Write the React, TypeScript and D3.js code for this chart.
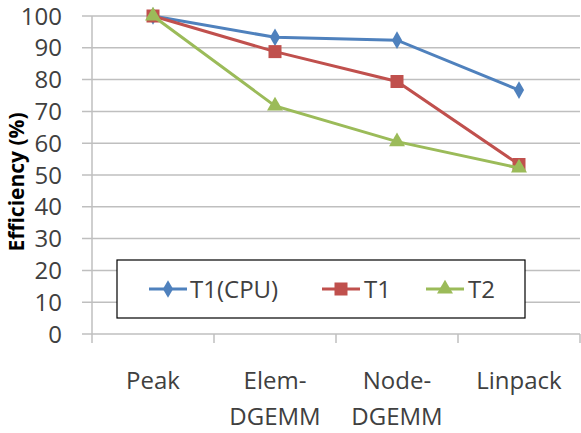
import React from 'react';
import * as d3 from 'd3';

const categories = ['Peak', 'Elem-\nDGEMM', 'Node-\nDGEMM', 'Linpack'];
const seriesNames = ['T1(CPU)', 'T1', 'T2'];
const t1cpu = [100, 93.3, 92.4, 76.7];
const t1 = [100, 88.8, 79.4, 53.3];
const t2 = [100, 71.7, 60.5, 52.2];
const yTicks = [0, 10, 20, 30, 40, 50, 60, 70, 80, 90, 100];

const colors = ['#4f81bd', '#c0504d', '#9bbb59'];
const W = 581;
const H = 433;
const left = 92;
const right = 580;
const top = 16;
const bottom = 334;
const font = '"Open Sans", "Liberation Sans", sans-serif';

function Marker({ kind, x, y, color }: { kind: number; x: number; y: number; color: string }) {
  if (kind === 0) {
    const s = d3.symbol(d3.symbolDiamond, 90)();
    return <path d={s || ''} transform={`translate(${x},${y})`} fill={color} />;
  }
  if (kind === 1) {
    return <rect x={x - 6.5} y={y - 6.5} width={13} height={13} fill={color} />;
  }
  const s = d3.symbol(d3.symbolTriangle, 110)();
  return <path d={s || ''} transform={`translate(${x},${y})`} fill={color} />;
}

export default function App() {
  const data = [t1cpu, t1, t2];
  const x = d3.scaleBand<string>().domain(categories).range([left, right]);
  const y = d3.scaleLinear().domain([0, 100]).range([bottom, top]);
  const cx = (c: string) => (x(c) ?? 0) + x.bandwidth() / 2;
  const line = d3
    .line<number>()
    .x((_, i) => cx(categories[i]))
    .y((d) => y(d));
  const edges = categories.map((c) => x(c) ?? 0).concat([right]);

  const legendItems = [
    { lx: 149, tx: 190 },
    { lx: 322, tx: 364 },
    { lx: 426, tx: 468 },
  ];

  return (
    <svg width={W} height={H} style={{ position: 'absolute', left: 0, top: 0 }}>
      <rect width={W} height={H} fill="#fff" />
      {yTicks.map((t) => (
        <line key={t} x1={left - 10} x2={right} y1={y(t)} y2={y(t)} stroke="#bfbfbf" strokeWidth={1.5} />
      ))}
      <line x1={left} x2={left} y1={top} y2={bottom} stroke="#bfbfbf" strokeWidth={1.5} />
      {edges.map((e, i) => (
        <line key={i} x1={e} x2={e} y1={bottom} y2={bottom + 9} stroke="#bfbfbf" strokeWidth={1.5} />
      ))}
      {yTicks.map((t) => (
        <text key={t} x={62} y={y(t)} dy="0.36em" textAnchor="end" fontFamily={font} fontSize={24} fill="#404040">
          {t}
        </text>
      ))}
      <text
        transform={`translate(24,182) rotate(-90)`}
        textAnchor="middle"
        fontFamily={font}
        fontSize={21}
        fontWeight="bold"
        fill="#000"
      >
        Efficiency (%)
      </text>
      {categories.map((c) =>
        c.split('\n').map((part, j) => (
          <text key={c + j} x={cx(c)} y={389 + j * 36} textAnchor="middle" fontFamily={font} fontSize={24} fill="#404040">
            {part}
          </text>
        ))
      )}
      {data.map((s, k) => (
        <g key={k}>
          <path d={line(s) || ''} fill="none" stroke={colors[k]} strokeWidth={3} />
          {s.map((v, i) => (
            <Marker key={i} kind={k} x={cx(categories[i])} y={y(v)} color={colors[k]} />
          ))}
        </g>
      ))}
      <rect x={117} y={260} width={408} height={58} fill="#fff" stroke="#000" strokeWidth={1.2} />
      {seriesNames.map((n, k) => (
        <g key={n}>
          <line x1={legendItems[k].lx} x2={legendItems[k].lx + 38} y1={289} y2={289} stroke={colors[k]} strokeWidth={3} />
          <Marker kind={k} x={legendItems[k].lx + 19} y={289} color={colors[k]} />
          <text x={legendItems[k].tx} y={289} dy="0.36em" fontFamily={font} fontSize={24} fill="#404040">
            {n}
          </text>
        </g>
      ))}
    </svg>
  );
}
